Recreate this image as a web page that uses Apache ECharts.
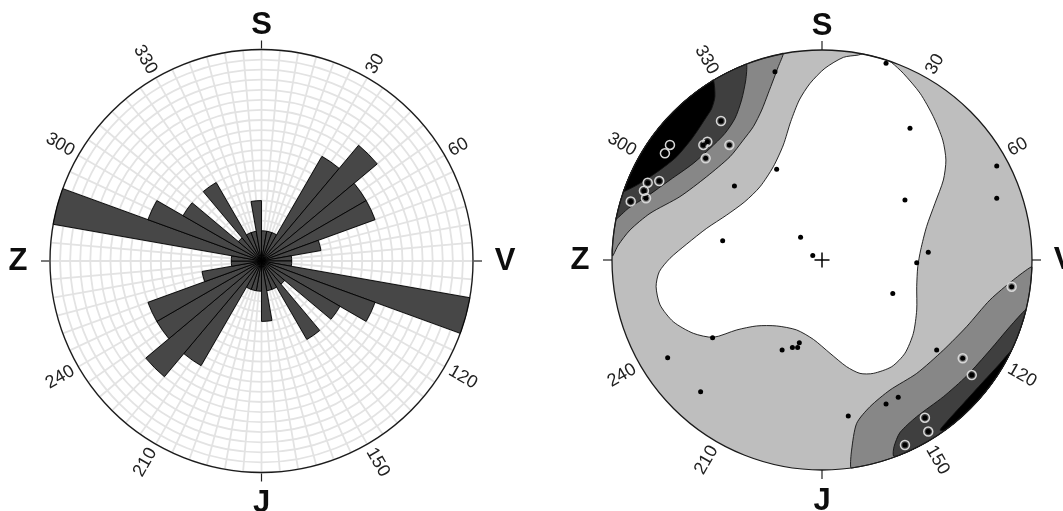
<!DOCTYPE html>
<html>
<head>
<meta charset="utf-8">
<script src="https://cdn.jsdelivr.net/npm/echarts@6/dist/echarts.min.js"></script>
<style>
  html, body { margin: 0; padding: 0; background: #ffffff; }
  #chart { width: 1063px; height: 511px; }
</style>
</head>
<body>
<div id="chart"></div>
<script>
// ---- Rose diagram: number of strikes per 10° bin, clockwise from S ----
const binLabels = [
  '0-10','10-20','20-30','30-40','40-50','50-60','60-70','70-80','80-90',
  '90-100','100-110','110-120','120-130','130-140','140-150','150-160','160-170','170-180',
  '180-190','190-200','200-210','210-220','220-230','230-240','240-250','250-260','260-270',
  '270-280','280-290','290-300','300-310','310-320','320-330','330-340','340-350','350-360'
];
const binCounts = [
  1, 1, 1, 4, 5, 4, 4, 2, 1,
  1, 7, 4, 3, 1, 3, 1, 1, 2,
  1, 1, 1, 4, 5, 4, 4, 2, 1,
  1, 7, 4, 3, 1, 3, 1, 1, 2
];
const roseMaxCount = 7;

// ---- Dial text shared by both diagrams ----
const compassLetters = [['S', 0], ['V', 90], ['J', 180], ['Z', 270]];
const degreeMarks = [30, 60, 120, 150, 210, 240, 300, 330];

// ---- Stereonet: poles (unit-circle coordinates, x to V, y to S) ----
const poleDots = [
  [-0.224, 0.897], [0.305, 0.937], [0.419, 0.627], [-0.216, 0.432], [-0.417, 0.352],
  [0.832, 0.448], [0.832, 0.294], [0.395, 0.286], [-0.473, 0.092], [-0.102, 0.108],
  [-0.044, 0.021], [0.506, 0.037], [0.451, -0.013], [0.337, -0.159], [-0.521, -0.370],
  [-0.190, -0.429], [-0.141, -0.417], [-0.116, -0.417], [-0.108, -0.394], [-0.735, -0.465],
  [0.546, -0.429], [-0.578, -0.627], [0.125, -0.743], [0.305, -0.686], [0.363, -0.654]
];
// poles lying inside the denser contour levels (drawn with a halo)
const densePoles = [
  [-0.481, 0.662], [-0.724, 0.548], [-0.748, 0.508], [-0.565, 0.548], [-0.546, 0.563],
  [-0.554, 0.484], [-0.441, 0.548], [-0.775, 0.376], [-0.830, 0.368], [-0.848, 0.330],
  [-0.838, 0.294], [-0.911, 0.279], [0.903, -0.127], [0.670, -0.468], [0.713, -0.548],
  [0.490, -0.751], [0.506, -0.817], [0.395, -0.881]
];
const netCentre = [[0, 0]];

// ---- Stereonet: density contour lines, each running rim to rim ----
const lowestLevelEdge = [
  [0.332, 0.940], [0.387, 0.889], [0.467, 0.794], [0.530, 0.683], [0.575, 0.571],
  [0.590, 0.476], [0.578, 0.381], [0.538, 0.270], [0.498, 0.159], [0.470, 0.048],
  [0.456, -0.032], [0.451, -0.127], [0.451, -0.238], [0.435, -0.349], [0.395, -0.444],
  [0.332, -0.508], [0.244, -0.540], [0.181, -0.540], [0.117, -0.508], [0.038, -0.444],
  [-0.041, -0.378], [-0.121, -0.333], [-0.216, -0.314], [-0.311, -0.314], [-0.406, -0.333],
  [-0.517, -0.368], [-0.613, -0.349], [-0.708, -0.294], [-0.771, -0.214], [-0.790, -0.127],
  [-0.775, -0.056], [-0.724, 0.008], [-0.644, 0.076], [-0.549, 0.151], [-0.454, 0.214],
  [-0.367, 0.278], [-0.295, 0.349], [-0.232, 0.444], [-0.184, 0.548], [-0.149, 0.659],
  [-0.108, 0.762], [-0.057, 0.841], [0.014, 0.913], [0.102, 0.965], [0.173, 0.976]
];
const nwLevel2 = [
  [-0.184, 0.984], [-0.208, 0.921], [-0.232, 0.857], [-0.256, 0.794], [-0.287, 0.714],
  [-0.327, 0.635], [-0.375, 0.571], [-0.438, 0.492], [-0.549, 0.397], [-0.676, 0.302],
  [-0.819, 0.222], [-0.914, 0.143], [-0.970, 0.071], [-0.997, 0.019]
];
const nwLevel3 = [
  [-0.359, 0.932], [-0.363, 0.857], [-0.383, 0.762], [-0.414, 0.675], [-0.462, 0.603],
  [-0.533, 0.532], [-0.613, 0.460], [-0.724, 0.381], [-0.835, 0.302], [-0.922, 0.246],
  [-0.981, 0.194]
];
const nwLevel4 = [
  [-0.517, 0.857], [-0.510, 0.778], [-0.525, 0.722], [-0.549, 0.683], [-0.613, 0.587],
  [-0.692, 0.492], [-0.771, 0.429], [-0.867, 0.365], [-0.946, 0.325]
];
const seLevel2 = [
  [0.998, -0.032], [0.911, -0.095], [0.800, -0.190], [0.689, -0.317], [0.578, -0.429],
  [0.451, -0.540], [0.324, -0.619], [0.229, -0.698], [0.165, -0.778], [0.141, -0.905],
  [0.137, -0.989]
];
const seLevel3 = [
  [0.971, -0.235], [0.895, -0.317], [0.800, -0.429], [0.689, -0.552], [0.578, -0.651],
  [0.451, -0.746], [0.371, -0.822], [0.343, -0.889], [0.340, -0.933]
];
const seLevel4 = [
  [0.903, -0.429], [0.848, -0.492], [0.768, -0.579], [0.673, -0.683], [0.594, -0.770],
  [0.562, -0.810]
];
const levelColors = ['#ffffff', '#bebebe', '#878787', '#3f3f3f', '#000000'];

// ---- layout ----
const roseCenter = [261.5, 261];
const roseR = 211.5;
const netCenter = [822, 260];
const netR = 210;
const labelFont = '"Liberation Sans", Arial, sans-serif';

// Closed outline: contour line followed by the shorter rim arc back to its start
function bandPoints(api, line) {
  const pts = line.map(p => api.coord(p));
  const last = line[line.length - 1];
  const a0 = Math.atan2(last[1], last[0]);
  const a1 = Math.atan2(line[0][1], line[0][0]);
  let d = a1 - a0;
  while (d > Math.PI) d -= 2 * Math.PI;
  while (d < -Math.PI) d += 2 * Math.PI;
  const steps = Math.max(2, Math.ceil(Math.abs(d) / 0.02));
  for (let i = 1; i < steps; i++) {
    const a = a0 + d * i / steps;
    pts.push(api.coord([Math.cos(a), Math.sin(a)]));
  }
  return pts;
}

function renderNet(params, api) {
  const c = api.coord([0, 0]);
  const r = api.coord([1, 0])[0] - c[0];
  const band = (line, fill) => ({
    type: 'polygon',
    shape: { points: bandPoints(api, line), smooth: 0.25 },
    style: { fill: fill, stroke: '#111', lineWidth: 0.9 }
  });
  return {
    type: 'group',
    children: [
      { type: 'circle', shape: { cx: c[0], cy: c[1], r: r }, style: { fill: levelColors[1] } },
      band(lowestLevelEdge, levelColors[0]),
      band(nwLevel2, levelColors[2]),
      band(nwLevel3, levelColors[3]),
      band(nwLevel4, levelColors[4]),
      band(seLevel2, levelColors[2]),
      band(seLevel3, levelColors[3]),
      band(seLevel4, levelColors[4]),
      { type: 'circle', shape: { cx: c[0], cy: c[1], r: r },
        style: { fill: 'none', stroke: '#1a1a1a', lineWidth: 1.3 } }
    ]
  };
}

// Cardinal ticks, compass letters and rotated degree labels around a dial
function dialGraphics(center, R) {
  const els = [];
  const [cx, cy] = center;
  const letterGap = { S: 24, V: 32, J: 31, Z: 32 };
  compassLetters.forEach(([letter, deg]) => {
    const t = deg * Math.PI / 180;
    const sx = Math.sin(t), sy = -Math.cos(t);
    els.push({
      type: 'line', silent: true,
      shape: { x1: cx + sx * R, y1: cy + sy * R, x2: cx + sx * (R + 9), y2: cy + sy * (R + 9) },
      style: { stroke: '#222', lineWidth: 1.2 }
    });
    const g = R + letterGap[letter];
    els.push({
      type: 'text', silent: true,
      x: cx + sx * g, y: cy + sy * g,
      style: {
        text: letter, fill: '#0d0d0d',
        fontSize: 31, fontWeight: 'bold', fontFamily: labelFont,
        align: 'center', verticalAlign: 'middle'
      }
    });
  });
  degreeMarks.forEach(deg => {
    const t = deg * Math.PI / 180;
    const r = R + 6;
    const outward = deg < 180;
    const rot = (outward ? 90 - deg : 270 - deg) * Math.PI / 180;
    const al = outward ? 'left' : 'right';
    els.push({
      type: 'text', silent: true,
      x: cx + Math.sin(t) * r, y: cy - Math.cos(t) * r,
      rotation: rot,
      style: {
        text: String(deg), fill: '#222222',
        fontSize: 18, fontFamily: labelFont,
        align: al, verticalAlign: 'middle'
      }
    });
  });
  return els;
}

const chart = echarts.init(document.getElementById('chart'), null, { renderer: 'canvas' });
const hidden = { show: false };

chart.setOption({
  backgroundColor: '#ffffff',
  animation: false,
  polar: [
    { center: roseCenter, radius: roseR },
    { center: roseCenter, radius: roseR }
  ],
  angleAxis: [
    {
      polarIndex: 0, type: 'value', min: 0, max: 360, interval: 5,
      startAngle: 90, clockwise: true,
      axisLine: hidden, axisTick: hidden, axisLabel: hidden,
      splitLine: { show: true, lineStyle: { color: '#e3e3e3', width: 1.8 } }
    },
    {
      polarIndex: 1, type: 'category', data: binLabels, boundaryGap: true,
      startAngle: 90, clockwise: true,
      axisLine: { show: true, lineStyle: { color: '#1a1a1a', width: 1.3 } },
      axisTick: hidden, axisLabel: hidden, splitLine: hidden
    }
  ],
  radiusAxis: [
    {
      polarIndex: 0, type: 'value', min: 0, max: 21, interval: 1,
      axisLine: hidden, axisTick: hidden, axisLabel: hidden,
      splitLine: { show: true, lineStyle: { color: '#e3e3e3', width: 1.8 } }
    },
    {
      polarIndex: 1, type: 'value', min: 0, max: roseMaxCount,
      axisLine: hidden, axisTick: hidden, axisLabel: hidden, splitLine: hidden
    }
  ],
  grid: [{ left: netCenter[0] - netR, top: netCenter[1] - netR, width: 2 * netR, height: 2 * netR }],
  xAxis: [{ gridIndex: 0, type: 'value', min: -1, max: 1, show: false }],
  yAxis: [{ gridIndex: 0, type: 'value', min: -1, max: 1, show: false }],
  series: [
    {
      type: 'bar', coordinateSystem: 'polar', polarIndex: 1,
      data: binCounts, barCategoryGap: '0%', silent: true, z: 3,
      itemStyle: { color: '#474747', borderColor: '#000000', borderWidth: 0.9 }
    },
    {
      type: 'custom', coordinateSystem: 'cartesian2d', xAxisIndex: 0, yAxisIndex: 0,
      data: netCentre, renderItem: renderNet, clip: false, silent: true, z: 2
    },
    {
      type: 'scatter', xAxisIndex: 0, yAxisIndex: 0, data: densePoles,
      symbol: 'circle', symbolSize: 9, silent: true, z: 4,
      itemStyle: { color: 'rgba(0,0,0,0)', borderColor: '#d6d6d6', borderWidth: 1.5, opacity: 1 }
    },
    {
      type: 'scatter', xAxisIndex: 0, yAxisIndex: 0, data: poleDots.concat(densePoles),
      symbol: 'circle', symbolSize: 5, silent: true, z: 5,
      itemStyle: { color: '#000000', opacity: 1 }
    },
    {
      type: 'scatter', xAxisIndex: 0, yAxisIndex: 0, data: netCentre,
      symbol: 'path://M0 6.3h14v1.4h-14zM6.3 0h1.4v14h-1.4z', symbolSize: 15,
      silent: true, z: 5, itemStyle: { color: '#000000', opacity: 1 }
    }
  ],
  graphic: { elements: dialGraphics(roseCenter, roseR).concat(dialGraphics(netCenter, netR)) }
});
</script>
</body>
</html>
